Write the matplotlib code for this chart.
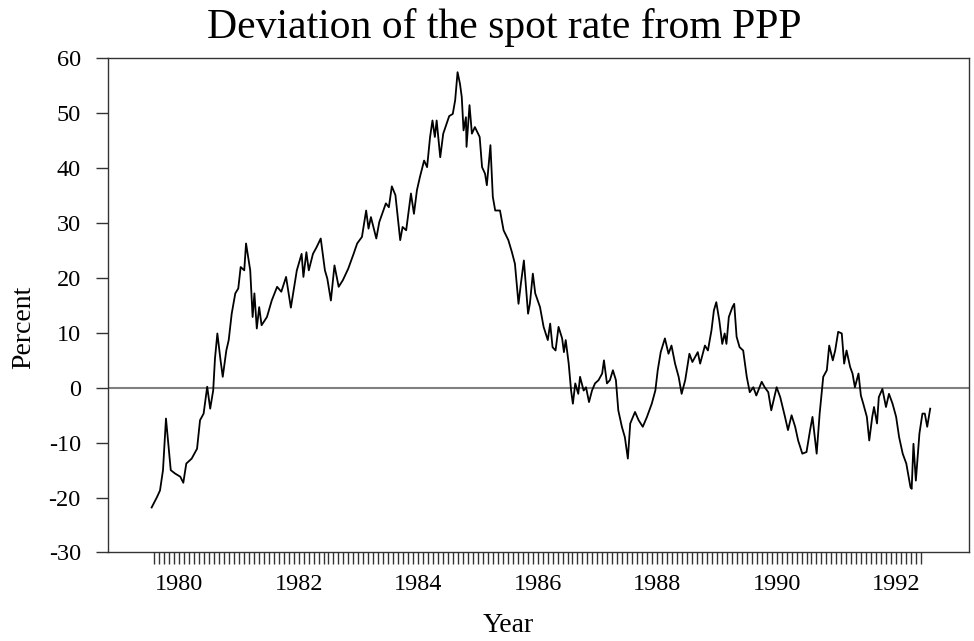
import matplotlib
matplotlib.use("Agg")
import matplotlib.pyplot as plt
from matplotlib.ticker import FixedLocator, NullFormatter

plt.rcParams["font.family"] = ["Liberation Serif", "DejaVu Serif"]
plt.rcParams["axes.unicode_minus"] = False

# decimal year of each reading
years = [
    1979.54, 1979.63, 1979.68, 1979.73, 1979.78, 1979.82, 1979.86, 1979.93,
    1980.02, 1980.07, 1980.12, 1980.21, 1980.30, 1980.35, 1980.41, 1980.47,
    1980.52, 1980.57, 1980.60, 1980.64, 1980.69, 1980.73, 1980.79, 1980.83,
    1980.88, 1980.94, 1980.99, 1981.03, 1981.09, 1981.12, 1981.19, 1981.23,
    1981.26, 1981.30, 1981.34, 1981.38, 1981.47, 1981.55, 1981.64, 1981.71,
    1981.79, 1981.87, 1981.97, 1982.05, 1982.08, 1982.13, 1982.17, 1982.24,
    1982.30, 1982.37, 1982.44, 1982.48, 1982.54, 1982.60, 1982.67, 1982.74,
    1982.83, 1982.92, 1982.98, 1983.06, 1983.13, 1983.17, 1983.21, 1983.30,
    1983.35, 1983.46, 1983.51, 1983.56, 1983.62, 1983.70, 1983.74, 1983.80,
    1983.88, 1983.93, 1983.98, 1984.03, 1984.10, 1984.15, 1984.20, 1984.24,
    1984.28, 1984.31, 1984.37, 1984.42, 1984.52,
    1984.58, 1984.62, 1984.66, 1984.70, 1984.73, 1984.76, 1984.80, 1984.81,
    1984.86, 1984.90, 1984.95, 1985.03, 1985.07, 1985.12, 1985.15, 1985.21,
    1985.25, 1985.29, 1985.37, 1985.43, 1985.51, 1985.57, 1985.62, 1985.68,
    1985.72, 1985.77, 1985.84, 1985.87, 1985.92, 1985.96, 1986.04, 1986.10,
    1986.17, 1986.21, 1986.25, 1986.30, 1986.35, 1986.41, 1986.44, 1986.47,
    1986.52, 1986.56, 1986.59, 1986.63, 1986.68, 1986.71, 1986.77, 1986.81,
    1986.86, 1986.91, 1986.96, 1987.02, 1987.08, 1987.11, 1987.16, 1987.21,
    1987.26, 1987.31, 1987.35, 1987.41, 1987.46, 1987.51, 1987.55, 1987.63,
    1987.69, 1987.76, 1987.83, 1987.91, 1987.97, 1988.01, 1988.06, 1988.13,
    1988.19, 1988.24, 1988.30, 1988.36, 1988.41, 1988.47, 1988.54,
    1988.59, 1988.68, 1988.72, 1988.80, 1988.85, 1988.91, 1988.95, 1988.99,
    1989.04, 1989.09, 1989.13, 1989.16, 1989.20, 1989.26, 1989.29, 1989.33,
    1989.38, 1989.44, 1989.50, 1989.55, 1989.61, 1989.66, 1989.75, 1989.80,
    1989.86, 1989.91, 1990.00, 1990.06, 1990.14, 1990.19, 1990.25, 1990.31,
    1990.36, 1990.43, 1990.50, 1990.56, 1990.60, 1990.67, 1990.72, 1990.78,
    1990.84, 1990.88, 1990.94, 1990.98, 1991.03, 1991.09, 1991.13, 1991.17,
    1991.23, 1991.27, 1991.31, 1991.37, 1991.41, 1991.45, 1991.51, 1991.55,
    1991.60, 1991.63, 1991.68, 1991.71, 1991.77, 1991.83, 1991.88, 1991.94,
    1992.00, 1992.05, 1992.11, 1992.17, 1992.24, 1992.26, 1992.29, 1992.33,
    1992.39, 1992.44, 1992.48, 1992.52, 1992.57,
]

# deviation from PPP, percent
deviation = [
    -21.8, -19.9, -18.7, -15.0, -5.6, -10.2, -15.0, -15.6,
    -16.2, -17.3, -13.8, -12.9, -11.1, -5.9, -4.7, 0.2,
    -3.8, -0.5, 5.3, 9.9, 5.3, 2.0, 6.8, 8.7,
    13.5, 17.2, 18.1, 22.0, 21.4, 26.3, 21.4, 12.9,
    17.2, 10.8, 14.7, 11.4, 12.9, 15.9, 18.4, 17.5,
    20.2, 14.6, 21.4, 24.4, 20.2, 24.7, 21.4, 24.4,
    25.6, 27.2, 21.4, 19.9, 15.9, 22.3, 18.4, 19.6,
    21.7, 24.4, 26.3, 27.5, 32.3, 29.0, 31.1, 27.2,
    30.2, 33.6, 32.9, 36.7, 35.1, 26.9, 29.3, 28.7,
    35.4, 31.7, 36.0, 38.4, 41.4, 40.2, 45.7, 48.7,
    45.7, 48.7, 42.0, 46.3, 49.5,
    49.9, 52.4, 57.5, 55.4, 53.0, 46.9, 49.3, 43.9,
    51.5, 46.3, 47.5, 45.7, 40.2, 39.0, 36.9, 44.2,
    34.8, 32.3, 32.3, 28.7, 26.9, 24.7, 22.6, 15.3,
    19.0, 23.2, 13.5, 15.3, 20.8, 17.2, 14.7, 11.1,
    8.7, 11.7, 7.4, 6.8, 11.1, 9.0, 6.5, 8.7,
    4.4, -0.5, -2.9, 0.8, -1.1, 2.0, -0.5, 0.1,
    -2.6, -0.5, 0.8, 1.4, 2.6, 5.0, 0.8, 1.4,
    3.2, 1.4, -4.1, -7.1, -9.0, -12.9, -6.5, -4.4,
    -5.9, -7.1, -5.3, -2.9, -0.5, 3.2, 6.5, 9.0,
    6.2, 7.7, 4.4, 2.0, -1.1, 1.4, 6.2,
    4.7, 6.5, 4.4, 7.7, 6.8, 10.5, 14.1, 15.6,
    12.3, 8.0, 9.9, 8.0, 12.9, 14.7, 15.3, 9.3,
    7.4, 6.8, 2.0, -0.8, 0.1, -1.4, 1.1, 0.1,
    -0.8, -4.1, 0.1, -1.7, -5.3, -7.7, -5.0, -7.1,
    -9.6, -12.0, -11.7, -7.7, -5.3, -12.0, -4.7, 2.0,
    3.2, 7.7, 5.0, 6.8, 10.2, 9.9, 4.4, 6.8,
    3.8, 2.6, 0.1, 2.6, -1.4, -2.9, -5.3, -9.6,
    -5.3, -3.5, -6.5, -1.7, -0.2, -3.5, -1.1, -2.9,
    -5.3, -9.0, -12.0, -13.8, -18.1, -18.4, -10.2, -16.9,
    -8.3, -4.7, -4.7, -7.1, -3.8,
]

label_years = [1980, 1982, 1984, 1986, 1988, 1990, 1992]
first_month = 1979 + 7 / 12
n_months = 155

fig = plt.figure(figsize=(9.74, 6.41), dpi=100)
ax = fig.add_axes([0.1109, 0.1381, 0.8840, 0.7707])

ax.axhline(0, color="#808080", lw=1.5, zorder=1)
ax.plot(years, deviation, color="black", lw=1.3, zorder=2)

ax.set_xlim(1978.81, 1993.22)
ax.set_ylim(-30, 60)
ax.set_yticks(range(-30, 61, 10))

months = [first_month + i / 12 for i in range(n_months)]
ax.xaxis.set_major_locator(FixedLocator(label_years))
ax.xaxis.set_minor_locator(FixedLocator(months))
ax.xaxis.set_minor_formatter(NullFormatter())
ax.set_xticklabels([str(y) for y in label_years])

for s in ax.spines.values():
    s.set_color("#333333")
    s.set_linewidth(1.0)

ax.tick_params(axis="y", direction="out", length=8.6, width=1, color="#333333",
               pad=11, labelsize=17.5)
ax.tick_params(axis="x", which="both", direction="out", length=8.6, width=1,
               color="#333333", pad=7, labelsize=17.5)

fig.text(504 / 974, 1 - 38 / 641, "Deviation of the spot rate from PPP",
         ha="center", va="baseline", fontsize=30)
fig.text(508 / 974, 1 - 632 / 641, "Year", ha="center", va="baseline", fontsize=20)
fig.text(24 / 974, 1 - 327 / 641, "Percent", ha="center", va="center",
         rotation=90, fontsize=20)

fig.savefig("out.png", dpi=100)
